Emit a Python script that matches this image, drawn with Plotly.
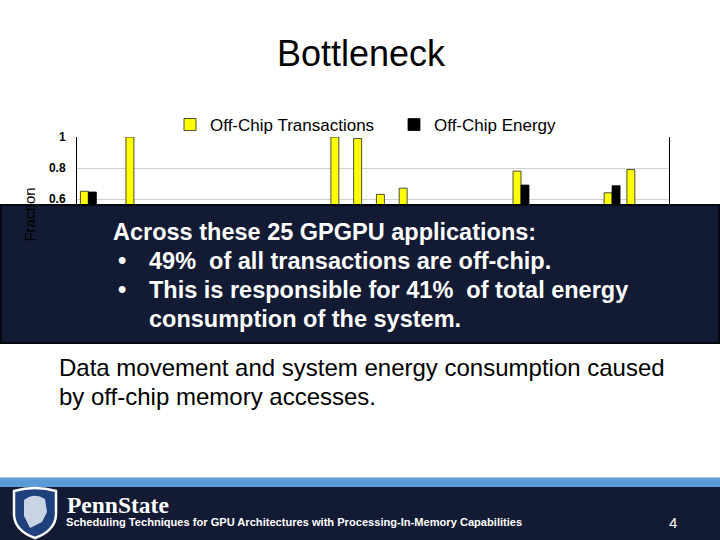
import plotly.graph_objects as go

W, H = 720, 540

apps = ["BP", "BFS", "KM", "CFD", "HS", "LUD", "NW", "SRAD", "SC", "LIB",
        "RAY", "FWT", "SP", "RED", "MUM", "BLK", "CONS", "JPEG", "HW", "SLA",
        "TRA", "SCP", "MM", "PVC", "SS", "AVG"]
offchip_transactions = [0.65, 0.45, 1.00, 0.30, 0.20, 0.40, 0.25, 0.15, 0.35, 0.50,
                        0.30, 1.00, 0.99, 0.63, 0.67, 0.20, 0.30, 0.40, 0.25, 0.78,
                        0.35, 0.10, 0.30, 0.64, 0.79, 0.49]
offchip_energy = [0.645, 0.40, 0.50, 0.30, 0.25, 0.35, 0.30, 0.20, 0.30, 0.45,
                  0.35, 0.52, 0.50, 0.45, 0.48, 0.25, 0.30, 0.35, 0.30, 0.69,
                  0.40, 0.15, 0.30, 0.686, 0.55, 0.41]

FONT = "Liberation Sans, Arial, sans-serif"
NAVY = "#131b34"


def px(x):
    return x / W


def py(y):
    return 1 - y / H


def sp(x, y):
    return f"{px(x)},{py(y)}"


fig = go.Figure()
fig.add_trace(go.Bar(x=apps, y=offchip_transactions, name="Off-Chip Transactions",
                     marker=dict(color="#ffff00", line=dict(color="#222222", width=0.8))))
fig.add_trace(go.Bar(x=apps, y=offchip_energy, name="Off-Chip Energy",
                     marker=dict(color="#000000", line=dict(color="#000000", width=0.8))))

fig.update_layout(
    width=W, height=H,
    margin=dict(l=0, r=0, t=0, b=0, pad=0, autoexpand=False),
    paper_bgcolor="white", plot_bgcolor="white",
    barmode="group", bargap=0.3, bargroupgap=0,
    font=dict(family=FONT, color="black"),
    showlegend=True,
    legend=dict(orientation="h", x=px(170), y=py(125), xanchor="left", yanchor="middle",
                font=dict(size=17, family=FONT), entrywidth=179, entrywidthmode="pixels",
                bgcolor="rgba(0,0,0,0)"),
    xaxis=dict(domain=[px(77), px(669)], showline=True, linecolor="black",
               tickfont=dict(size=11), showgrid=False, ticks="", automargin=False),
    yaxis=dict(domain=[py(292), py(137)], range=[0, 1], dtick=0.2,
               showline=True, mirror=True, linecolor="black", linewidth=1,
               gridcolor="#d0d0d0", zeroline=False, ticks="", automargin=False,
               ticklabelstandoff=8,
               tickfont=dict(size=12, family=FONT, weight="bold"),
               title=dict(text="Fraction", font=dict(size=15), standoff=9)),
)

shapes = [
    # occluding callout box
    dict(type="rect", xref="paper", yref="paper", x0=px(1), x1=px(719), y0=py(343), y1=py(205),
         fillcolor=NAVY, line=dict(color="#05080f", width=2), layer="above"),
    # footer bands
    dict(type="rect", xref="paper", yref="paper", x0=0, x1=1, y0=py(487), y1=py(477.5),
         fillcolor="#5a9bd8", line=dict(width=0), layer="above"),
    dict(type="rect", xref="paper", yref="paper", x0=0, x1=1, y0=0, y1=py(487),
         fillcolor=NAVY, line=dict(width=0), layer="above"),
    # shield logo (decorative)
    dict(type="path", xref="paper", yref="paper", layer="above",
         path=(f"M {sp(14, 491)} Q {sp(35, 485)} {sp(56, 491)} L {sp(56, 515)} "
               f"Q {sp(55, 531)} {sp(35, 538)} Q {sp(15, 531)} {sp(14, 515)} Z"),
         fillcolor="#1e407c", line=dict(color="white", width=2.5)),
    dict(type="path", xref="paper", yref="paper", layer="above",
         path=(f"M {sp(24, 500)} Q {sp(34, 492)} {sp(45, 499)} L {sp(47, 512)} "
               f"L {sp(42, 522)} L {sp(30, 528)} L {sp(24, 516)} Z"),
         fillcolor="#c9d3e4", line=dict(width=0)),
]
fig.update_layout(shapes=shapes)

ann = []
ann.append(dict(text="Bottleneck", x=px(361), y=py(54), xref="paper", yref="paper",
                showarrow=False, font=dict(size=36, family=FONT, color="black"),
                xanchor="center", yanchor="middle"))
box_lines = [
    (111, 232, "Across these 25 GPGPU applications:"),
    (116, 261, "•"),
    (147, 261, "49%  of all transactions are off-chip."),
    (116, 290, "•"),
    (147, 290, "This is responsible for 41%  of total energy"),
    (147, 319, "consumption of the system."),
]
for x, y, t in box_lines:
    ann.append(dict(text=t, x=px(x), y=py(y), xref="paper", yref="paper", showarrow=False,
                    xanchor="left", yanchor="middle",
                    font=dict(size=23.5, family=FONT, color="white", weight="bold")))
for y, t in [(367, "Data movement and system energy consumption caused"),
             (396, "by off-chip memory accesses.")]:
    ann.append(dict(text=t, x=px(57), y=py(y), xref="paper", yref="paper", showarrow=False,
                    xanchor="left", yanchor="middle",
                    font=dict(size=24, family=FONT, color="black")))
ann.append(dict(text="PennState", x=px(65), y=py(505), xref="paper", yref="paper",
                showarrow=False, xanchor="left", yanchor="middle",
                font=dict(size=23.5, family="Liberation Serif, serif", color="white", weight="bold")))
ann.append(dict(text="Scheduling Techniques for GPU Architectures with Processing-In-Memory Capabilities",
                x=px(64), y=py(522), xref="paper", yref="paper", showarrow=False,
                xanchor="left", yanchor="middle",
                font=dict(size=11.1, family=FONT, color="white", weight="bold")))
ann.append(dict(text="4", x=px(673), y=py(522), xref="paper", yref="paper", showarrow=False,
                xanchor="center", yanchor="middle",
                font=dict(size=15, family=FONT, color="white")))
fig.update_layout(annotations=ann)

fig.write_html("out.html", config={"displayModeBar": False},
               post_script="document.body.style.margin='0';document.body.style.padding='0';")
